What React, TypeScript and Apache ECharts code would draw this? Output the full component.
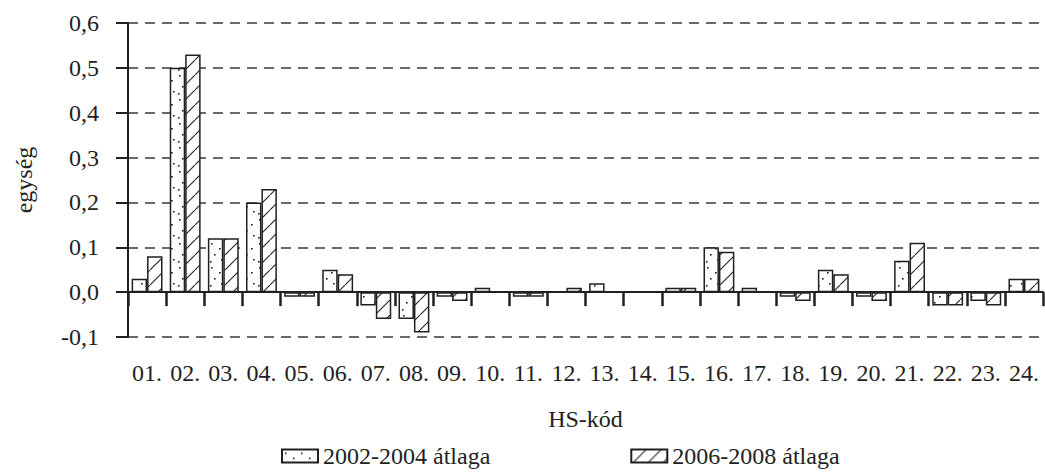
import React, { useEffect, useRef } from "react";
import * as echarts from "echarts";

const categories = ["01.", "02.", "03.", "04.", "05.", "06.", "07.", "08.", "09.", "10.", "11.", "12.", "13.", "14.", "15.", "16.", "17.", "18.", "19.", "20.", "21.", "22.", "23.", "24."];
const series1Name = "2002-2004 átlaga";
const series2Name = "2006-2008 átlaga";
const series1 = [0.03, 0.5, 0.12, 0.2, -0.01, 0.05, -0.03, -0.06, -0.01, 0.01, -0.01, 0, 0.02, 0, 0.01, 0.1, 0.01, -0.01, 0.05, -0.01, 0.07, -0.03, -0.02, 0.03];
const series2 = [0.08, 0.53, 0.12, 0.23, -0.01, 0.04, -0.06, -0.09, -0.02, 0, -0.01, 0.01, 0, 0, 0.01, 0.09, 0, -0.02, 0.04, -0.02, 0.11, -0.03, -0.03, 0.03];
const yTicks = { min: -0.1, max: 0.6, interval: 0.1 };
const yName = "egység";
const xName = "HS-kód";

const INK = "#231f20";
const FONT = "'Liberation Serif', 'Times New Roman', serif";
const FS = 24;

function dotPattern(): HTMLCanvasElement {
  const c = document.createElement("canvas");
  c.width = 16;
  c.height = 24;
  const ctx = c.getContext("2d")!;
  ctx.fillStyle = "#ffffff";
  ctx.fillRect(0, 0, 16, 24);
  ctx.fillStyle = INK;
  const dots = [[3, 3], [11, 8], [6, 14], [13, 19], [2, 21]];
  dots.forEach(([x, y]) => ctx.fillRect(x, y, 1.6, 1.6));
  return c;
}

function hatchPattern(): HTMLCanvasElement {
  const c = document.createElement("canvas");
  c.width = 15;
  c.height = 15;
  const ctx = c.getContext("2d")!;
  ctx.fillStyle = "#ffffff";
  ctx.fillRect(0, 0, 15, 15);
  ctx.strokeStyle = INK;
  ctx.lineWidth = 1.1;
  ctx.beginPath();
  ctx.moveTo(-1, 16);
  ctx.lineTo(16, -1);
  ctx.stroke();
  return c;
}

export default function App() {
  const ref = useRef<HTMLDivElement>(null);
  useEffect(() => {
    document.body.style.margin = "0";
    const chart = echarts.init(ref.current!, undefined, { renderer: "svg" });
    const fmt = (v: number) => v.toFixed(1).replace(".", ",");
    chart.setOption({
      animation: false,
      textStyle: { fontFamily: FONT, color: INK },
      grid: { left: 128, right: 2, top: 23, bottom: 135, containLabel: false, outerBoundsMode: "none" },
      legend: {
        left: 276,
        top: 439,
        itemGap: 140,
        itemWidth: 36,
        itemHeight: 13,
        icon: "rect",
        textStyle: { fontFamily: FONT, fontSize: FS, color: INK },
        data: [series1Name, series2Name],
      },
      xAxis: [
        {
          type: "category",
          data: categories,
          boundaryGap: true,
          axisLine: { show: true, onZero: true, lineStyle: { color: INK, width: 2 } },
          axisTick: { show: true, interval: 0, length: 14, lineStyle: { color: INK, width: 2.5 } },
          axisLabel: { show: false },
          splitLine: { show: false },
        },
        {
          type: "category",
          data: categories,
          position: "bottom",
          boundaryGap: true,
          axisLine: { show: false },
          axisTick: { show: false },
          axisLabel: { show: true, interval: 0, margin: 24, fontFamily: FONT, fontSize: FS, color: INK },
          splitLine: { show: false },
          name: xName,
          nameLocation: "middle",
          nameGap: 70,
          nameTextStyle: { fontFamily: FONT, fontSize: FS, color: INK },
        },
      ],
      yAxis: {
        type: "value",
        min: yTicks.min,
        max: yTicks.max,
        interval: yTicks.interval,
        axisLine: { show: true, onZero: false, lineStyle: { color: INK, width: 2 } },
        axisTick: { show: true, length: 12, lineStyle: { color: INK, width: 2 } },
        axisLabel: { margin: 29, fontFamily: FONT, fontSize: FS, color: INK, formatter: fmt },
        splitLine: { show: true, lineStyle: { color: "#3a3a3a", width: 1.5, type: [10, 7] } },
        name: yName,
        nameLocation: "middle",
        nameGap: 92,
        nameRotate: 90,
        nameTextStyle: { fontFamily: FONT, fontSize: FS, color: INK },
      },
      series: [
        {
          name: series1Name,
          type: "bar",
          xAxisIndex: 0,
          data: series1,
          barGap: "0%",
          barCategoryGap: "19%",
          itemStyle: {
            color: { image: dotPattern(), repeat: "repeat" },
            borderColor: INK,
            borderWidth: 1.5,
          },
        },
        {
          name: series2Name,
          type: "bar",
          xAxisIndex: 0,
          data: series2,
          barGap: "0%",
          barCategoryGap: "19%",
          itemStyle: {
            color: { image: hatchPattern(), repeat: "repeat" },
            borderColor: INK,
            borderWidth: 1.5,
          },
        },
      ],
    });
    return () => chart.dispose();
  }, []);
  return <div ref={ref} style={{ width: 1045, height: 472 }} />;
}
